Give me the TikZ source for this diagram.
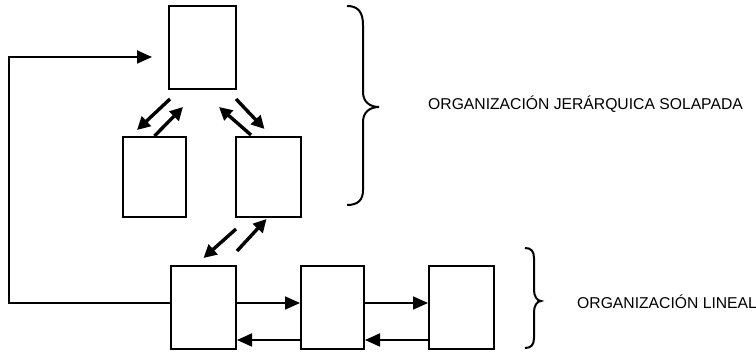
\documentclass[tikz,border=0pt]{standalone}
\usepackage{fontspec}
\setmainfont{Liberation Sans}
\usetikzlibrary{calc,arrows.meta,positioning}
\tikzset{
	bloque/.style={draw, line width=2pt, inner sep=0pt, minimum width=65pt, minimum height=82pt},
	flecha/.style={line width=1.8pt, -{Triangle[length=15pt,width=13pt]}},
	diag/.style={line width=3.4pt, -{Triangle[length=13pt,width=13pt]}},
	llave/.style={line width=2pt},
	rotulo/.style={inner sep=0pt, anchor=base west, font=\fontsize{15.7}{18}\selectfont}
}

\begin{document}
\begin{tikzpicture}[x=1pt, y=-1pt]
			%%%%% START %%%%%
			\useasboundingbox (0, 0) rectangle (756, 352);
			
			\node[bloque, minimum width=67pt, minimum height=83pt] (top) at (202.5, 47.5) {};
			\node[bloque, minimum width=63pt, minimum height=80pt] (izq) at (154.5, 177) {};
			\node[bloque, minimum height=80pt] (der) at (268.5, 177) {};
			
			\node[bloque, minimum height=83pt] (lin1) at (203.5, 307.5) {};
			\node[bloque, minimum width=63pt, minimum height=83pt] (lin2) at (332.5, 307.5) {};
			\node[bloque, minimum height=83pt] (lin3) at (461.5, 307.5) {};
			
			\draw[diag] ($(top.south west)+(2, 9)$) -- ($(izq.north west)+(15, -6)$);
			\draw[diag] (izq.north) -- ($(top.south west)+(15, 17)$);
			\draw[diag] ($(top.south east)+(-1, 9)$) -- ($(der.north)+(-4, -7)$);
			\draw[diag] ($(der.north west)+(16, -1)$) -- ($(top.south east)+(-18, 17)$);
			
			\draw[diag] ($(der.south west)+(1, 11)$) -- ($(lin1.north)+(0, -7)$);
			\draw[diag] ($(lin1.north east)+(0, -14)$) -- ($(der.south)+(-2, 1)$);
			
			\draw[flecha] ([yshift=4.5pt]lin1.east) -- ([yshift=4.5pt]lin2.west);
			\draw[flecha] ([yshift=4.5pt]lin2.east) -- ([yshift=4.5pt]lin3.west);
			\draw[flecha] ([yshift=-32.5pt]lin2.west) -- ([yshift=-32.5pt]lin1.east);
			\draw[flecha] ([yshift=-32.5pt]lin3.west) -- ([yshift=-32.5pt]lin2.east);
			
			\coordinate (vuelta) at (9, 57);
			\draw[flecha] ([yshift=4.5pt]lin1.west) -| (vuelta) -- ([xshift=-16pt]top.west |- vuelta);
			
			\draw[llave] (347, 6) .. controls (358, 6) and (363, 12) .. (363, 25) -- (363, 92)
				.. controls (363, 102) and (370, 107) .. (379, 107)
				.. controls (370, 107) and (363, 112) .. (363, 122) -- (363, 190)
				.. controls (363, 200) and (358, 205) .. (347, 205);
			\draw[llave] (525, 248) .. controls (531, 248) and (534, 251) .. (534, 258) -- (534, 290)
				.. controls (534, 296) and (537, 301) .. (541, 301)
				.. controls (537, 301) and (534, 306) .. (534, 312) -- (534, 338)
				.. controls (534, 345) and (531, 348) .. (525, 348);
			
			\node[rotulo] (jer) at (428, 110) {ORGANIZACIÓN JERÁRQUICA SOLAPADA};
			\node[rotulo] (lin) at (577, 309) {ORGANIZACIÓN LINEAL};
			%%%%% END %%%%%
\end{tikzpicture}
\end{document}
